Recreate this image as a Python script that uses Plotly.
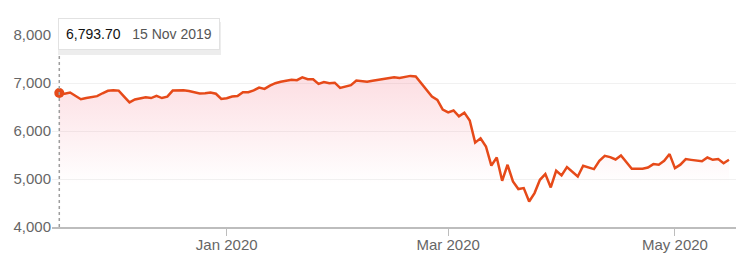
import pandas as pd
import plotly.graph_objects as go

# Trading days (ASX) 15 Nov 2019 - 15 May 2020
holidays = ["2019-12-25", "2019-12-26", "2020-01-01", "2020-01-27", "2020-04-10", "2020-04-13"]
dates = [d.strftime("%Y-%m-%d") for d in pd.bdate_range("2019-11-15", "2020-05-15")
         if d.strftime("%Y-%m-%d") not in holidays]

values = [
    6793.7, 6780, 6805, 6740, 6665, 6690, 6710, 6730, 6790, 6840,   # Nov
    6850, 6845, 6720, 6600, 6660, 6690, 6705, 6690, 6735, 6690,
    6720, 6845, 6850, 6850, 6835, 6815, 6785, 6790, 6805, 6780,
    6672,                                                            # Dec 31
    6685, 6720, 6730, 6812, 6812, 6850, 6908, 6881, 6950, 7000,      # Jan
    7030, 7048, 7070, 7062, 7120, 7083, 7083, 6985, 7025, 7000,
    7010,
    6902, 6925, 6958, 7054, 7040, 7030, 7050, 7068, 7090, 7110,      # Feb
    7124, 7110, 7130, 7152, 7140, 7000, 6870, 6720, 6650, 6450,
    6390, 6430, 6310, 6385, 6220, 5760, 5850, 5680, 5280, 5450,      # Mar
    4964, 5298, 4950, 4791, 4812, 4533, 4708, 4985, 5104, 4825,
    5173, 5075,
    5250, 5150, 5054, 5277, 5240, 5208, 5380, 5485, 5458, 5408,      # Apr
    5492, 5350, 5215, 5215, 5215, 5242, 5312, 5298, 5381, 5521,
    5229, 5300, 5416, 5400, 5385, 5370, 5450, 5402, 5416, 5330,      # May
    5402,
]
assert len(values) == len(dates), (len(values), len(dates))

tick_dates = ["2020-01-02", "2020-03-02", "2020-05-01"]
tick_labels = ["Jan 2020", "Mar 2020", "May 2020"]
y_ticks = [4000, 5000, 6000, 7000, 8000]

LINE = "#e64a19"
FONT = "Liberation Sans, Arial, Helvetica, sans-serif"

fig = go.Figure()
fig.add_trace(go.Scatter(
    x=dates, y=values, mode="lines",
    line=dict(color=LINE, width=2.5),
    fill="tozeroy",
    fillgradient=dict(
        type="vertical",
        colorscale=[[0, "rgba(245,110,130,0)"], [1, "rgba(245,110,130,0.23)"]],
        start=4900, stop=7150,
    ),
    hoverinfo="skip", showlegend=False,
))
fig.add_trace(go.Scatter(
    x=[dates[0]], y=[values[0]], mode="markers",
    marker=dict(color=LINE, size=10),
    hoverinfo="skip", showlegend=False,
))

# dotted crosshair at first point
fig.add_shape(type="line", xref="x", yref="paper",
              x0=dates[0], x1=dates[0], y0=0, y1=0.906,
              line=dict(color="#9e9e9e", width=1.5, dash="dot"))

# soft shadow behind tooltip
fig.add_shape(type="rect", xref="paper", yref="paper", layer="above",
              x0=(58 - 52) / 684, x1=(221 - 52) / 684,
              y0=(227.3 - 55) / 192.3, y1=(227.3 - 22) / 192.3,
              line=dict(width=0), fillcolor="rgba(0,0,0,0.07)")

fig.add_annotation(
    xref="paper", yref="paper", x=0.0088, y=1.088,
    xanchor="left", yanchor="top", showarrow=False,
    text=f"<span style='color:#111'>{values[0]:,.2f}</span>&nbsp;&nbsp;&nbsp;"
         f"<span style='color:#555'>15 Nov 2019</span>",
    font=dict(family=FONT, size=14),
    bgcolor="white", bordercolor="#e2e2e2", borderwidth=1, borderpad=7,
)

fig.update_layout(
    width=750, height=271,
    margin=dict(l=52, r=14, t=35, b=44),
    paper_bgcolor="white", plot_bgcolor="white",
    font=dict(family=FONT, size=15, color="#666"),
    xaxis=dict(
        type="category", range=[-1.35, 125.3],
        tickmode="array", tickvals=tick_dates, ticktext=tick_labels,
        showgrid=False, showline=True, linecolor="#bdbdbd", linewidth=1.5,
        ticks="outside", ticklen=7, tickcolor="#bdbdbd", tickwidth=1,
        ticklabelstandoff=-4,
        tickfont=dict(size=15, color="#666"),
    ),
    yaxis=dict(
        range=[4000, 8005], tickmode="array", tickvals=y_ticks,
        tickformat=",", showgrid=True, gridcolor="#f1f1f1", gridwidth=1,
        zeroline=False, showline=False, ticks="",
        tickfont=dict(size=15, color="#666"),
    ),
)

fig.write_html("out.html")
